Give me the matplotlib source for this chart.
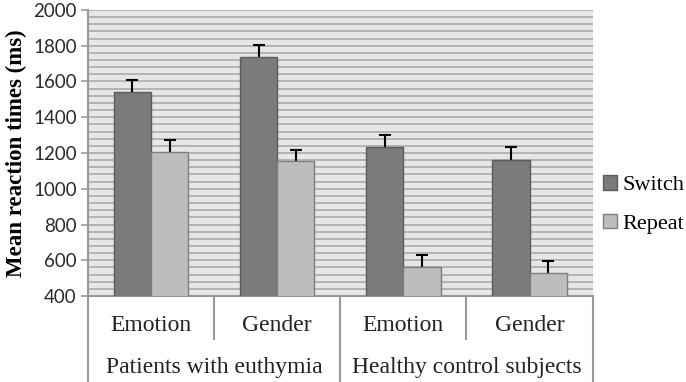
import matplotlib.pyplot as plt
import numpy as np

# data
groups = ["Patients with euthymia", "Healthy control subjects"]
tasks = ["Emotion", "Gender", "Emotion", "Gender"]
switch = [1540, 1737, 1235, 1163]
repeat = [1207, 1155, 565, 530]
switch_err = [68, 68, 67, 70]
repeat_err = [67, 64, 66, 68]

fig = plt.figure(figsize=(6.86, 3.82), dpi=100)
ax = fig.add_axes([0.128, 0.225, 0.736, 0.749])

x = np.arange(len(tasks))
w = 0.295
ax.set_facecolor("#e6e6e6")
ax.set_ylim(400, 2000)
ax.set_xlim(-0.5, len(tasks) - 0.5)
ax.set_yticks(np.arange(400, 2001, 40), minor=True)
ax.set_yticks(np.arange(400, 2001, 200))
ax.grid(axis="y", which="both", color="#ababab", linewidth=1.2, zorder=0)
ax.set_axisbelow(True)

ax.bar(x - w / 2, switch, w, yerr=switch_err, color="#7b7b7b", edgecolor="#5c5c5c",
       linewidth=1.0, label="Switch", zorder=2,
       error_kw=dict(ecolor="black", elinewidth=1.5, capsize=4, capthick=1.5))
ax.bar(x + w / 2, repeat, w, yerr=repeat_err, color="#bdbdbd", edgecolor="#7f7f7f",
       linewidth=1.0, label="Repeat", zorder=2,
       error_kw=dict(ecolor="black", elinewidth=1.5, capsize=4, capthick=1.5))

# hide the lower half of the error bars behind the bars
for b in ax.patches:
    b.set_zorder(3)

ax.set_xticks([])
ax.tick_params(axis="y", which="minor", length=0)
ax.tick_params(axis="y", which="major", length=5, color="#999999", width=1.2,
               labelsize=13.5, pad=3)
for lab in ax.get_yticklabels():
    lab.set_family("Lato")
    lab.set_color("#2a2a2a")
for s in ["top", "right"]:
    ax.spines[s].set_visible(False)
ax.spines["left"].set_color("#999999")
ax.spines["left"].set_linewidth(1.5)
ax.spines["bottom"].set_color("#999999")
ax.spines["bottom"].set_linewidth(1.5)

ax.set_ylabel("Mean reaction times (ms)", family="Liberation Serif", fontweight="bold",
              fontsize=16.5, labelpad=4)

# category axis below the plot
trans = ax.get_xaxis_transform()
for xi, t in zip(x, tasks):
    ax.text(xi, -0.102, t, transform=trans, ha="center", va="center",
            family="Liberation Serif", fontsize=17, color="#222222")
for gi, g in enumerate(groups):
    ax.text(2 * gi + 0.5, -0.248, g, transform=trans, ha="center", va="center",
            family="Liberation Serif", fontsize=17, color="#222222")
for xs in [0.5, 2.5]:
    ax.plot([xs, xs], [0, -0.15], transform=trans, color="#999999", lw=1.5, clip_on=False)
for xs in [-0.5, 1.5, 3.5]:
    ax.plot([xs, xs], [0, -0.3], transform=trans, color="#999999", lw=1.5, clip_on=False)

ax.legend(loc="center left", bbox_to_anchor=(1.0, 0.32), frameon=False,
          prop=dict(family="Liberation Serif", size=16), handlelength=0.65,
          handleheight=0.65, handletextpad=0.25, labelspacing=0.82,
          borderaxespad=0.0, borderpad=0.45)

fig.savefig("out.png", dpi=100)
